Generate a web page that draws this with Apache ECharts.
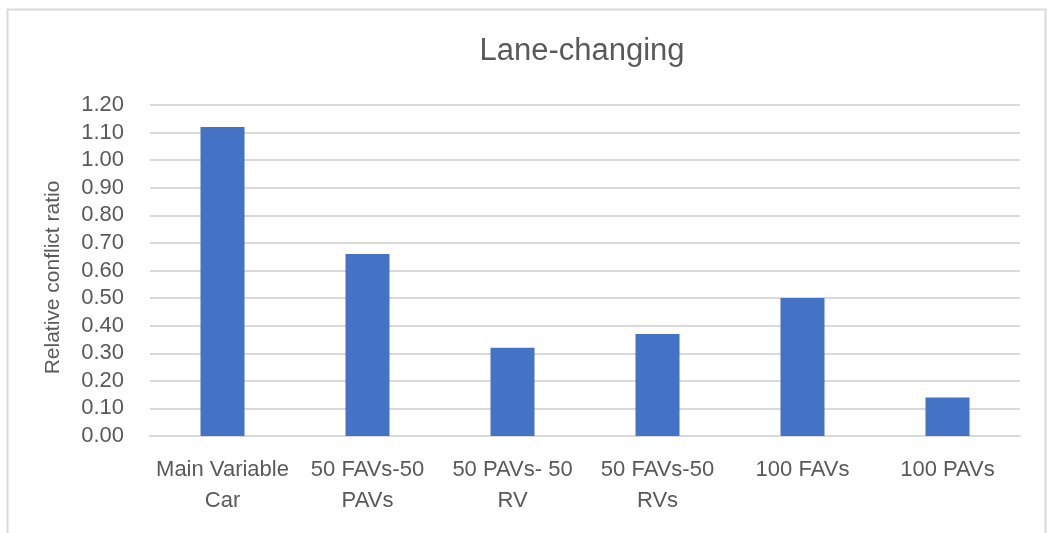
<!DOCTYPE html>
<html><head><meta charset="utf-8">
<script src="https://cdn.jsdelivr.net/npm/echarts@6/dist/echarts.min.js"></script>
<style>html,body{margin:0;padding:0;background:#fff}#c{width:1049px;height:533px}</style>
</head><body><div id="c"></div>
<script>
var categories = ['Main Variable\nCar', '50 FAVs-50\nPAVs', '50 PAVs- 50\nRV', '50 FAVs-50\nRVs', '100 FAVs', '100 PAVs'];
var values = [1.12, 0.66, 0.32, 0.37, 0.50, 0.14];
var titleText = 'Lane-changing';
var yName = 'Relative conflict ratio';
var FONT = "'Liberation Sans', Arial, sans-serif";
var chart = echarts.init(document.getElementById('c'));
chart.setOption({
  animation: false,
  backgroundColor: '#fff',
  graphic: [{type: 'rect', left: 5, top: 7, shape: {width: 1038, height: 540}, style: {fill: 'none', stroke: '#d9d9d9', lineWidth: 2}, silent: true}],
  title: {text: titleText, left: 577, top: 31, textAlign: 'center', textStyle: {fontFamily: FONT, fontSize: 31, fontWeight: 'normal', color: '#595959'}},
  grid: {left: 150, right: 29, top: 105, bottom: 97},
  xAxis: {type: 'category', data: categories,
    axisLine: {lineStyle: {color: '#d9d9d9', width: 2}}, axisTick: {show: false},
    axisLabel: {fontFamily: FONT, fontSize: 22, color: '#595959', margin: 18, lineHeight: 31, interval: 0}},
  yAxis: {type: 'value', min: 0, max: 1.2, interval: 0.1, name: yName, nameLocation: 'middle', nameGap: 86,
    nameTextStyle: {fontFamily: FONT, fontSize: 21, color: '#595959', padding: [0, 14, 0, 0]},
    axisLine: {show: false}, axisTick: {show: false},
    axisLabel: {fontFamily: FONT, fontSize: 22, color: '#595959', margin: 26, formatter: function(v){return v.toFixed(2);}},
    splitLine: {lineStyle: {color: '#d9d9d9', width: 2}}},
  series: [{type: 'bar', data: values, barWidth: 44, itemStyle: {color: '#4472c4'}}]
});
</script></body></html>
